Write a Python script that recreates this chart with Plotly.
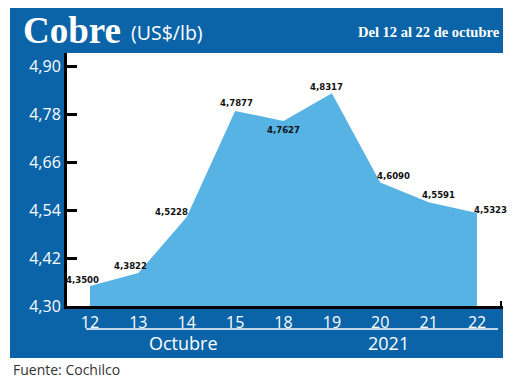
import plotly.graph_objects as go

# ---- data ----
days = ["12", "13", "14", "15", "18", "19", "20", "21", "22"]
prices = [4.3500, 4.3822, 4.5228, 4.7877, 4.7627, 4.8317, 4.6090, 4.5591, 4.5323]
y_ticks = [4.30, 4.42, 4.54, 4.66, 4.78, 4.90]
y_tick_labels = ["4,30", "4,42", "4,54", "4,66", "4,78", "4,90"]
month_label = "Octubre"
year_label = "2021"
title_main = "Cobre"
title_unit = "(US$/lb)"
title_range = "Del 12 al 22 de octubre"
source = "Fuente: Cochilco"

# ---- styling / layout ----
W, H = 520, 380
L, R, T, B = 67, 17, 53, 74
PW, PH = W - L - R, H - T - B
BLUE = "#0b64a8"
FILL = "#56b3e3"
FONT = "Open Sans"

def px(x):
    return (x - L) / PW

def py(y):
    return (H - B - y) / PH

xpos = list(range(len(days)))

# label offsets (xshift, yshift) per point
offsets = [(-7, 7), (-8, 8), (-15, 5), (1, 8), (0, -9), (-5, 7), (13, 7), (10, 8), (13, 4)]

fig = go.Figure()
fig.add_trace(go.Scatter(
    x=xpos, y=prices, mode="lines", fill="tozeroy",
    line=dict(width=0, color=FILL), fillcolor=FILL, hoverinfo="skip",
))

shapes = [
    dict(type="rect", xref="paper", yref="paper", x0=px(10), x1=px(503), y0=py(53), y1=py(8),
         fillcolor=BLUE, line_width=0, layer="below"),
    dict(type="rect", xref="paper", yref="paper", x0=px(10), x1=px(66), y0=py(358), y1=py(53),
         fillcolor=BLUE, line_width=0, layer="below"),
    dict(type="rect", xref="paper", yref="paper", x0=px(66), x1=px(503), y0=py(358), y1=py(306),
         fillcolor=BLUE, line_width=0, layer="below"),
    dict(type="line", xref="paper", yref="paper", x0=px(86), x1=px(498), y0=py(329), y1=py(329),
         line=dict(color="white", width=1.5)),
    dict(type="line", xref="paper", yref="paper", x0=px(501), x1=px(501), y0=py(306), y1=py(301),
         line=dict(color="black", width=2)),
]

annotations = []
for i, v in enumerate(prices):
    xs, ys = offsets[i]
    annotations.append(dict(
        x=xpos[i], y=v, xref="x", yref="y", text=f"<b>{v:.4f}</b>".replace(".", ","),
        showarrow=False, xshift=xs, yshift=ys, yanchor="middle",
        font=dict(family="DejaVu Sans Condensed", size=9.5, color="#111111"),
    ))

annotations += [
    dict(x=px(21), y=py(30), xref="paper", yref="paper", text=f"<b>{title_main}</b>",
         showarrow=False, xanchor="left", yanchor="middle",
         font=dict(family="Liberation Serif", size=37, color="white")),
    dict(x=px(129), y=py(32), xref="paper", yref="paper", text=title_unit,
         showarrow=False, xanchor="left", yanchor="middle",
         font=dict(family=FONT, size=19.5, color="white")),
    dict(x=px(502), y=py(32), xref="paper", yref="paper", text=f"<b>{title_range}</b>",
         showarrow=False, xanchor="right", yanchor="middle",
         font=dict(family="Liberation Serif", size=14.5, color="white")),
    dict(x=px(183), y=py(343), xref="paper", yref="paper", text=month_label,
         showarrow=False, xanchor="center", yanchor="middle",
         font=dict(family=FONT, size=18, color="white")),
    dict(x=px(388), y=py(343), xref="paper", yref="paper", text=year_label,
         showarrow=False, xanchor="center", yanchor="middle",
         font=dict(family=FONT, size=18, color="white")),
    dict(x=px(11), y=py(369), xref="paper", yref="paper", text=source,
         showarrow=False, xanchor="left", yanchor="middle",
         font=dict(family=FONT, size=14, color="#333333")),
]

fig.update_layout(
    width=W, height=H, margin=dict(l=L, r=R, t=T, b=B),
    paper_bgcolor="white", plot_bgcolor="white",
    showlegend=False, shapes=shapes, annotations=annotations,
    xaxis=dict(
        range=[-0.475, 8.537], tickvals=xpos, ticktext=days, showgrid=False, zeroline=False,
        showline=True, linecolor="black", linewidth=2.5, ticks="",
        tickfont=dict(family=FONT, size=16, color="white"), fixedrange=True,
    ),
    yaxis=dict(
        range=[4.30, 4.9325], tickvals=y_ticks, ticktext=y_tick_labels,
        showgrid=False, zeroline=False, showline=True, linecolor="black", linewidth=3,
        ticks="inside", ticklen=10, tickwidth=2.5, tickcolor="black",
        tickfont=dict(family=FONT, size=16, color="white"), fixedrange=True,
    ),
)

fig.write_html(
    "out.html",
    config={"displayModeBar": False},
    post_script="document.body.style.margin='0';document.body.style.overflow='hidden';",
)
